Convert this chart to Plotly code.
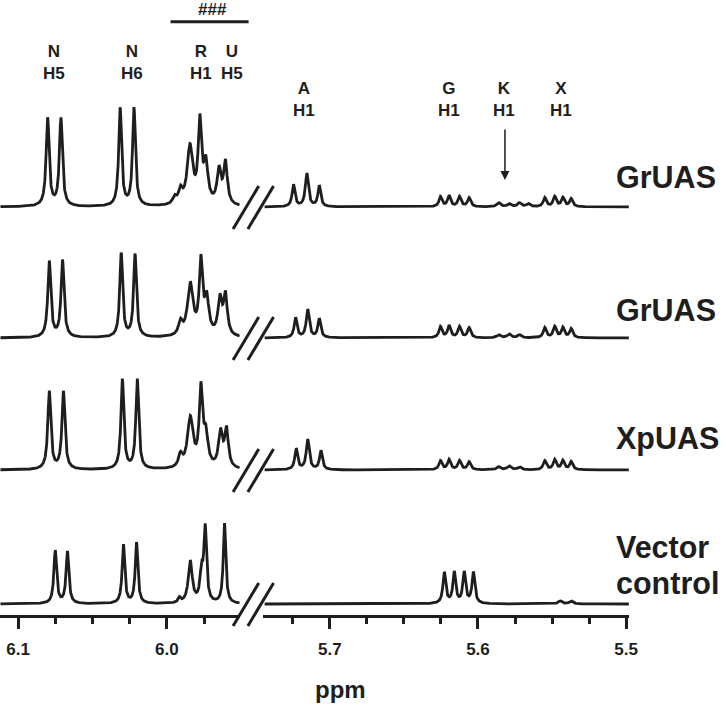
import numpy as np
import plotly.graph_objects as go

# ---------------- data ----------------
trace_names = ["GrUAS", "GrUAS", "XpUAS", "Vector control"]

# peak lists per spectrum: chemical shift (ppm), height (a.u.), line width (ppm)
gr1_ppm = [6.0801, 6.0712, 6.0314, 6.0221, 5.9949, 5.9909, 5.9845, 5.9779, 5.9739, 5.9650, 5.9607,
           5.7245, 5.7155, 5.7071, 5.6253, 5.6195, 5.6125, 5.6060, 5.5860, 5.5790, 5.5720, 5.5660,
           5.5549, 5.5482, 5.5427, 5.5371]
gr1_int = [88, 88, 98, 98, 7, 13, 58, 80, 40, 34, 42,
           22, 33, 21, 10, 11, 10, 9, 4, 3, 4, 3,
           9, 10, 9, 8]
gr1_wid = [0.0024, 0.0024, 0.0023, 0.0023, 0.003, 0.003, 0.0045, 0.0026, 0.0035, 0.0032, 0.0030,
           0.0023, 0.0025, 0.0023, 0.0025, 0.0025, 0.0025, 0.0025, 0.003, 0.003, 0.003, 0.003,
           0.0025, 0.0025, 0.0025, 0.0025]

gr2_ppm = [6.0790, 6.0701, 6.0307, 6.0214, 5.9909, 5.9843, 5.9772, 5.9733, 5.9644, 5.9607,
           5.7231, 5.7149, 5.7071, 5.6253, 5.6195, 5.6125, 5.6060, 5.5860, 5.5790, 5.5720,
           5.5549, 5.5482, 5.5427, 5.5371]
gr2_int = [76, 77, 84, 83, 13, 52, 72, 36, 36, 40,
           20, 28, 19, 11, 12, 11, 10, 3, 4, 3,
           10, 11, 10, 9]
gr2_wid = [0.0024, 0.0024, 0.0023, 0.0023, 0.003, 0.0045, 0.0026, 0.0035, 0.0032, 0.0030,
           0.0023, 0.0025, 0.0023, 0.0025, 0.0025, 0.0025, 0.0025, 0.003, 0.003, 0.003,
           0.0025, 0.0025, 0.0025, 0.0025]

xp_ppm = [6.0790, 6.0695, 6.0299, 6.0199, 5.9909, 5.9843, 5.9772, 5.9739, 5.9640, 5.9600,
          5.7227, 5.7149, 5.7060, 5.6253, 5.6195, 5.6125, 5.6060, 5.5860, 5.5790, 5.5720,
          5.5549, 5.5482, 5.5427, 5.5371]
xp_int = [78, 78, 90, 90, 12, 50, 76, 32, 35, 38,
          21, 30, 19, 9, 10, 9, 8, 3, 4, 3,
          9, 10, 9, 8]
xp_wid = [0.0024, 0.0024, 0.0023, 0.0023, 0.003, 0.0045, 0.0026, 0.0035, 0.0032, 0.0030,
          0.0023, 0.0025, 0.0023, 0.0025, 0.0025, 0.0025, 0.0025, 0.003, 0.003, 0.003,
          0.0025, 0.0025, 0.0025, 0.0025]

vc_ppm = [6.0750, 6.0668, 6.0292, 6.0204, 5.9916, 5.9843, 5.9768, 5.9743, 5.9613,
          5.6227, 5.6160, 5.6093, 5.6031, 5.5445, 5.5371]
vc_int = [53, 52, 59, 61, 5, 42, 28, 74, 80,
          31, 31, 31, 31, 3, 3]
vc_wid = [0.0022, 0.0022, 0.0021, 0.0021, 0.002, 0.0032, 0.0024, 0.0022, 0.0020,
          0.0023, 0.0023, 0.0023, 0.0023, 0.003, 0.003]

spectra = [(gr1_ppm, gr1_int, gr1_wid), (gr2_ppm, gr2_int, gr2_wid),
           (xp_ppm, xp_int, xp_wid), (vc_ppm, vc_int, vc_wid)]

peak_labels = [("N", "H5", 6.0756, "x"), ("N", "H6", 6.0237, "x"), ("R", "H1", 5.9774, "x"),
               ("U", "H5", 5.9564, "x"), ("A", "H1", 5.7171, "x2"), ("G", "H1", 5.6198, "x2"),
               ("K", "H1", 5.5822, "x2"), ("X", "H1", 5.5438, "x2")]

left_ticks = [6.1, 6.0]
left_minor = [6.075, 6.05, 6.025, 5.975]
right_ticks = [5.7, 5.6, 5.5]
right_minor = [5.725, 5.675, 5.65, 5.625, 5.575, 5.55, 5.525]

# ---------------- layout helpers ----------------
W, H = 726, 706
INK = "#1e1e1e"
FONT = "Liberation Sans, Arial, sans-serif"
baseline_px = [207, 338, 470, 604]          # vertical position of each spectrum (px from top)
left_range = [6.1121, 5.9509]
right_range = [5.7453, 5.4980]
left_dom = [0, 243 / W]
right_dom = [266 / W, 637 / W]
axis_px = 616


def yv(py):
    return H - py


def spectrum(ppm_grid, pos, amp, wid):
    y = np.zeros_like(ppm_grid)
    for p, a, w in zip(pos, amp, wid):
        y += a / (1 + ((ppm_grid - p) / (w / 2)) ** 2)
    return y


grid_left = np.linspace(6.1118, 5.9512, 1400)
grid_right = np.linspace(5.7440, 5.4982, 2200)

fig = go.Figure()
for (pos, amp, wid), bpx in zip(spectra, baseline_px):
    off = yv(bpx)
    fig.add_trace(go.Scatter(x=grid_left, y=off + spectrum(grid_left, pos, amp, wid),
                             mode="lines", line=dict(color=INK, width=2.8),
                             xaxis="x", yaxis="y", hoverinfo="skip", showlegend=False))
    fig.add_trace(go.Scatter(x=grid_right, y=off + spectrum(grid_right, pos, amp, wid),
                             mode="lines", line=dict(color=INK, width=2.8),
                             xaxis="x2", yaxis="y", hoverinfo="skip", showlegend=False))

axis_common = dict(anchor="free", position=yv(axis_px) / H, showline=True, linecolor=INK,
                   linewidth=2.5, ticks="outside", ticklen=11, tickwidth=2.5, tickcolor=INK,
                   showgrid=False, zeroline=False, fixedrange=True,
                   tickfont=dict(family=FONT, size=17, color=INK, weight="bold"),
                   ticklabelstandoff=6)
fig.update_layout(
    width=W, height=H, autosize=False,
    margin=dict(l=0, r=0, t=0, b=0, pad=0),
    paper_bgcolor="white", plot_bgcolor="white",
    xaxis=dict(domain=left_dom, range=left_range, tickvals=left_ticks,
               ticktext=[f"{v:.1f}" for v in left_ticks],
               minor=dict(tickvals=left_minor, ticks="outside", ticklen=6, tickwidth=2.5,
                          tickcolor=INK, showgrid=False),
               **axis_common),
    xaxis2=dict(domain=right_dom, range=right_range, tickvals=right_ticks,
                ticktext=[f"{v:.1f}" for v in right_ticks],
                minor=dict(tickvals=right_minor, ticks="outside", ticklen=6, tickwidth=2.5,
                           tickcolor=INK, showgrid=False),
                **axis_common),
    yaxis=dict(domain=[0, 1], range=[0, H], visible=False, fixedrange=True),
)

# break marks
shapes = []
for bpx in baseline_px:
    b = yv(bpx)
    for x0 in (236, 251):
        shapes.append(dict(type="line", xref="paper", yref="y", x0=x0 / W, x1=(x0 + 26) / W,
                           y0=b - 22, y1=b + 21, line=dict(color=INK, width=3)))
# bar under ###
shapes.append(dict(type="line", xref="paper", yref="y", x0=172.7 / W, x1=251.7 / W,
                   y0=yv(21.7), y1=yv(21.7), line=dict(color=INK, width=3)))
fig.update_layout(shapes=shapes)

ann = []
for top, bot, pos, xr in peak_labels:
    cy = 62 if xr == "x" else 99.5
    ann.append(dict(x=pos, xref=xr, y=yv(cy), yref="y", text=f"{top}<br>{bot}",
                    showarrow=False, xanchor="center", yanchor="middle",
                    font=dict(family=FONT, size=17, color=INK, weight="bold")))
ann.append(dict(x=215 / W, xref="paper", y=yv(9.5), yref="y", text="###", showarrow=False,
                xanchor="center", yanchor="middle",
                font=dict(family=FONT, size=17, color=INK, weight="bold")))
# arrow to K H1
ann.append(dict(x=5.5818, xref="x2", y=yv(180), yref="y", text="", showarrow=True,
                ax=0, ay=-52, arrowhead=2, arrowsize=1.2, arrowwidth=1.5, arrowcolor=INK))
# spectrum names
name_lines = [("GrUAS", 177), ("GrUAS", 310), ("XpUAS", 438), ("Vector", 547), ("control", 583)]
for txt, cy in name_lines:
    ann.append(dict(x=622 / W, xref="paper", y=yv(cy), yref="y", text=txt, showarrow=False,
                    xanchor="left", yanchor="middle",
                    font=dict(family=FONT, size=30.5, color=INK, weight="bold")))
ann.append(dict(x=344.5 / W, xref="paper", y=yv(689), yref="y", text="ppm", showarrow=False,
                xanchor="center", yanchor="middle",
                font=dict(family=FONT, size=24, color=INK, weight="bold")))
fig.update_layout(annotations=ann)

fig.write_html("out.html", config={"displayModeBar": False},
               post_script="document.body.style.margin='0';document.body.style.overflow='hidden';")
